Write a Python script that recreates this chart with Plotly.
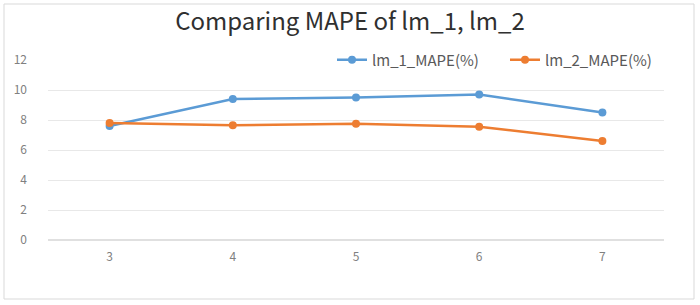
import plotly.graph_objects as go

categories = ["3", "4", "5", "6", "7"]
lm1_mape = [7.6, 9.4, 9.5, 9.7, 8.5]
lm2_mape = [7.8, 7.65, 7.75, 7.55, 6.6]
y_ticks = [0, 2, 4, 6, 8, 10, 12]

W, H = 700, 305
L, R, T, B = 48, 36, 60, 65

fig = go.Figure()
fig.add_trace(go.Scatter(x=categories, y=lm1_mape, mode="lines+markers", name="lm_1_MAPE(%)",
                         line=dict(color="#5B9BD5", width=2.5), marker=dict(size=8, color="#5B9BD5")))
fig.add_trace(go.Scatter(x=categories, y=lm2_mape, mode="lines+markers", name="lm_2_MAPE(%)",
                         line=dict(color="#ED7D31", width=2.5), marker=dict(size=8, color="#ED7D31")))

pw = W - L - R
ph = H - T - B
fig.add_shape(type="rect", xref="paper", yref="paper",
              x0=(4 - L) / pw, x1=(694 - L) / pw, y0=-(299 - T - ph) / ph, y1=1 + (T - 4) / ph,
              line=dict(color="#D9D9D9", width=1), fillcolor="rgba(0,0,0,0)", layer="below")

fig.update_layout(
    width=W, height=H,
    margin=dict(l=L, r=R, t=T, b=B),
    paper_bgcolor="white", plot_bgcolor="white",
    font=dict(family="Noto Sans CJK KR, Noto Sans, sans-serif", color="#808080"),
    title=dict(text="Comparing MAPE of lm_1, lm_2", x=0.5, xref="container", xanchor="center",
               y=1 - 22 / H, yref="container", yanchor="middle",
               font=dict(size=24, color="#303030")),
    legend=dict(orientation="h", x=1 + 14 / pw, xanchor="right", y=1, yanchor="middle",
                font=dict(size=15, color="#595959"), bgcolor="rgba(255,255,255,1)",
                entrywidth=128, entrywidthmode="pixels", tracegroupgap=0),
    showlegend=True,
    xaxis=dict(type="category", range=[-0.5, 4.5], showgrid=False, showline=False, zeroline=False,
               tickfont=dict(size=12, color="#808080"), ticks="", ticklabelstandoff=8),
    yaxis=dict(range=[0, 12], tickvals=y_ticks, showgrid=True, gridcolor="#E8E8E8", gridwidth=1,
               zeroline=True, zerolinecolor="#E0E0E0", showline=False,
               tickfont=dict(size=12, color="#808080"), ticks="", ticklabelstandoff=20),
)
fig.write_html("out.html")
